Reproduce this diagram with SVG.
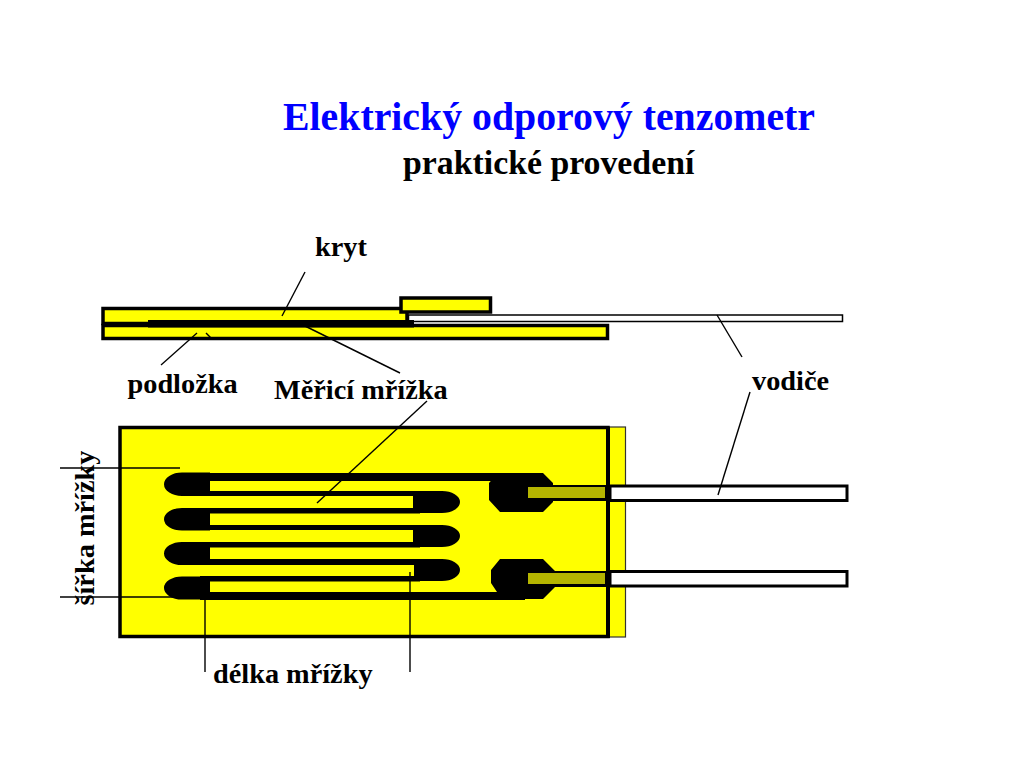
<svg xmlns="http://www.w3.org/2000/svg" width="1024" height="768" viewBox="0 0 1024 768">
<style>
text{font-family:"Liberation Serif","Times New Roman",serif;font-weight:bold;fill:#000}
.y{fill:#ffff00;stroke:#000;stroke-width:3.5}
.w{fill:#fff;stroke:#000;stroke-width:3}
.k{fill:#000}
.ol{fill:#b5b500}
.l{stroke:#000;stroke-width:1.4;fill:none}
.lb{font-size:28.300px}
</style>
<rect width="1024" height="768" fill="#fff"/>
<g id="title">
<text x="283" y="130" font-size="39.800" style="fill:#0000ff">Elektrický odporový tenzometr</text>
<text x="403" y="174" font-size="33.800">praktické provedení</text>
</g>
<g id="side-view">
<rect class="y" x="103" y="308.500" width="304" height="15"/>
<rect class="y" x="103" y="325.500" width="504.500" height="13"/>
<rect class="w" x="408.500" y="315" width="434" height="6.500" style="stroke-width:1.500"/>
<rect class="k" x="148" y="320" width="266" height="7.500"/>
<rect class="y" x="401" y="298" width="89.500" height="14"/>
</g>
<g id="plan-view">
<rect x="608" y="427" width="17.500" height="210" fill="#ffff00" stroke="#333" stroke-width="1.200"/>
<rect class="y" x="120" y="427.500" width="488" height="209"/>
<rect class="k" x="606" y="427" width="4" height="211"/>
</g>
<g id="grid">
<path class="k" d="M210 473H500V481H210V491H413V496H210ZM182 472.500H210V496H182A18 11.750 0 0 1 182 472.500Z"/>
<path class="k" d="M182 508H210V530.500H182A18 11.250 0 0 1 182 508ZM182 542H210V565H182A18 11.500 0 0 1 182 542ZM182 576.500H210V599.500H182A18 11.500 0 0 1 182 576.500Z"/>
<path class="k" d="M413 491H442A18 11 0 0 1 442 513H413ZM413 525H442A18 11 0 0 1 442 547H413ZM414 559H442A18 11 0 0 1 442 581H414Z"/>
<rect class="k" x="200" y="508" width="220" height="5.500"/>
<rect class="k" x="200" y="525" width="220" height="5"/>
<rect class="k" x="200" y="542" width="220" height="5.500"/>
<rect class="k" x="200" y="559" width="220" height="6"/>
<rect class="k" x="200" y="576" width="220" height="5.500"/>
<rect class="k" x="200" y="592" width="325" height="8"/>
</g>
<g id="pad-top">
<path class="k" d="M498 473H543L553 483V485H606V501H553V502L543 512H500L489 500V483Z"/>
<rect class="ol" x="528" y="487" width="77" height="11"/>
</g>
<g id="pad-bottom">
<path class="k" d="M500 559H543L555 571H606V587H555L543 599H525V600H500V592H497L491 583V570Z"/>
<rect class="ol" x="528" y="573" width="77" height="11"/>
</g>
<g id="wires">
<rect class="w" x="610" y="486" width="237" height="14.500"/>
<rect class="w" x="610" y="571.500" width="237" height="14.500"/>
</g>
<g id="connectors">
<path class="l" d="M305 272L282 316"/>
<path class="l" d="M161 365L197 333"/>
<path class="l" d="M206 333L211 338"/>
<path class="l" d="M305 326L400 373"/>
<path class="l" d="M717 315L742 357"/>
<path class="l" d="M750 392L718 495"/>
<path class="l" d="M427 401L317 503"/>
<path class="l" d="M60 468H180"/>
<path class="l" d="M60 597H205"/>
<path class="l" d="M205 597V672"/>
<path class="l" d="M410 572V672"/>
</g>
<g id="labels">
<text class="lb" x="315" y="255.500">kryt</text>
<text class="lb" x="127.500" y="392.500">podložka</text>
<text class="lb" x="274" y="398.500">Měřicí mřížka</text>
<text class="lb" x="752" y="389.500">vodiče</text>
<text class="lb" x="213" y="682.500">délka mřížky</text>
<text class="lb" transform="translate(94 605.500) rotate(-90)">šířka mřížky</text>
</g>
</svg>
